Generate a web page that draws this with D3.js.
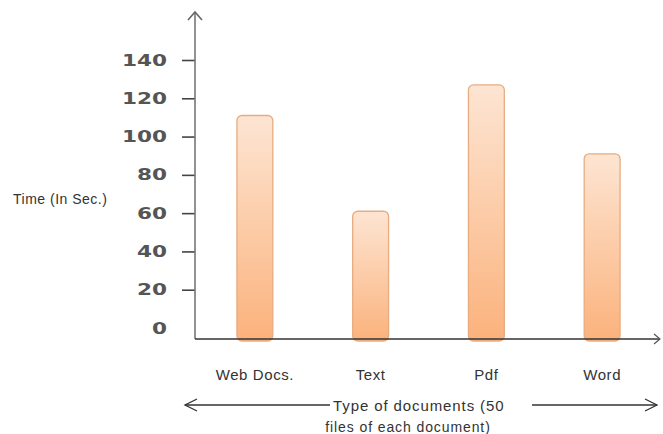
<!DOCTYPE html>
<html>
<head>
<meta charset="utf-8">
<script src="https://cdn.jsdelivr.net/npm/d3@7"></script>
<style>
  body { margin: 0; background: #fff; }
  svg { display: block; }
</style>
</head>
<body>
<div id="chart"></div>
<script>
const categories = ["Web Docs.", "Text", "Pdf", "Word"];
const times = [111, 61, 127, 91];
const yTicks = [0, 20, 40, 60, 80, 100, 120, 140];
const yTitle = "Time (In Sec.)";
const xTitle = ["Type of documents (50", "files of each document)"];

const width = 663, height = 434;
const axisX = 195, baseY = 339;

const svg = d3
  .select("#chart")
  .append("svg")
  .attr("width", width)
  .attr("height", height);

// gradient for the bars, pale at the top, orange at the bottom
const grad = svg.append("defs").append("linearGradient")
  .attr("id", "barGrad")
  .attr("x1", 0).attr("y1", 0).attr("x2", 0).attr("y2", 1);
grad.append("stop").attr("offset", "0%").attr("stop-color", "#fde5d3");
grad.append("stop").attr("offset", "100%").attr("stop-color", "#fbb27c");

const y = d3.scaleLinear().domain([0, 140]).range([328, 60]);
const x = d3
  .scaleBand()
  .domain(categories)
  .range([197, 660])
  .paddingInner(0.69)
  .paddingOuter(0.345);

// bars
svg.append("g")
  .selectAll("rect")
  .data(times)
  .enter()
  .append("rect")
  .attr("x", (d, i) => x(categories[i]))
  .attr("y", (d) => y(d))
  .attr("width", x.bandwidth())
  .attr("height", (d) => baseY + 2 - y(d))
  .attr("rx", 5)
  .attr("fill", "url(#barGrad)")
  .attr("stroke", "#e8ac80")
  .attr("stroke-width", 1.3);

// Y axis
const yAxis = svg.append("g")
  .attr("transform", "translate(" + axisX + ",0)")
  .call(d3.axisLeft(y).tickValues(yTicks).tickSize(13).tickPadding(15));
yAxis.select(".domain").remove();
yAxis.selectAll(".tick line")
  .attr("stroke", "#444")
  .attr("stroke-width", 1.6)
  .attr("display", (d) => (d === 0 ? "none" : null));
yAxis.selectAll(".tick text")
  .attr("font-family", "DejaVu Sans")
  .attr("font-weight", "bold")
  .attr("font-size", 16)
  .attr("fill", "#555")
  .attr("textLength", (d) => String(d).length * 15)
  .attr("lengthAdjust", "spacingAndGlyphs");

const axisColor = "#555";
svg.append("line")
  .attr("x1", axisX).attr("x2", axisX)
  .attr("y1", baseY).attr("y2", 12)
  .attr("stroke", "#777").attr("stroke-width", 1.6);
svg.append("path")
  .attr("d", `M${axisX - 7},${20}L${axisX},${12}L${axisX + 7},${20}`)
  .attr("fill", "none").attr("stroke", "#666").attr("stroke-width", 1.6);

// X axis
const xAxis = svg.append("g")
  .attr("transform", "translate(0," + baseY + ")")
  .call(d3.axisBottom(x).tickSize(0).tickPadding(30));
xAxis.select(".domain").remove();
xAxis.selectAll(".tick text")
  .attr("font-family", "Liberation Sans")
  .attr("font-size", 15)
  .attr("letter-spacing", 0.6)
  .attr("fill", "#333");

svg.append("line")
  .attr("x1", axisX).attr("x2", 660)
  .attr("y1", baseY).attr("y2", baseY)
  .attr("stroke", "#333").attr("stroke-width", 1.6);
svg.append("path")
  .attr("d", `M654,${baseY - 5}L660,${baseY}L654,${baseY + 5}`)
  .attr("fill", "none").attr("stroke", axisColor).attr("stroke-width", 1.2);

// y title
svg.append("text")
  .attr("x", 13).attr("y", 204)
  .attr("font-family", "Liberation Sans")
  .attr("font-size", 14)
  .attr("letter-spacing", 0.5)
  .attr("fill", "#333")
  .text(yTitle);

// x title with arrows either side
const titleG = svg.append("g")
  .attr("font-family", "Liberation Sans")
  .attr("font-size", 15)
  .attr("letter-spacing", 0.9)
  .attr("fill", "#333");
titleG.append("text").attr("x", 333).attr("y", 411).text(xTitle[0]);
titleG.append("text").attr("x", 408).attr("y", 432)
  .attr("font-size", 14)
  .attr("text-anchor", "middle").text(xTitle[1]);

const arrowY = 405;
svg.append("line")
  .attr("x1", 185).attr("x2", 330).attr("y1", arrowY).attr("y2", arrowY)
  .attr("stroke", "#333").attr("stroke-width", 1.3);
svg.append("path")
  .attr("d", `M197,${arrowY - 6}L185,${arrowY}L197,${arrowY + 6}`)
  .attr("fill", "none").attr("stroke", "#333").attr("stroke-width", 1.3);
svg.append("line")
  .attr("x1", 532).attr("x2", 657).attr("y1", arrowY).attr("y2", arrowY)
  .attr("stroke", "#333").attr("stroke-width", 1.3);
svg.append("path")
  .attr("d", `M645,${arrowY - 6}L657,${arrowY}L645,${arrowY + 6}`)
  .attr("fill", "none").attr("stroke", "#333").attr("stroke-width", 1.3);
</script>
</body>
</html>
